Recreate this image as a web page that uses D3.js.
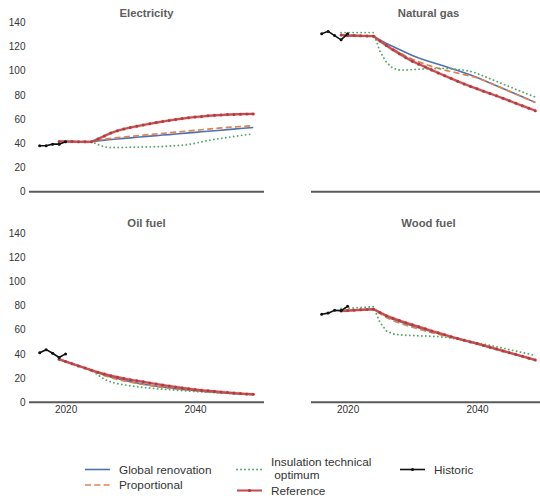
<!DOCTYPE html>
<html>
<head>
<meta charset="utf-8">
<script src="https://cdn.jsdelivr.net/npm/d3@7"></script>
<style>
  body { margin: 0; background: #fff; }
  svg { display: block; font-family: "Liberation Sans", Arial, sans-serif; }
</style>
</head>
<body>
<svg id="chart" width="540" height="496"></svg>
<script>
// ---- data ----------------------------------------------------------------
const scenarioYears = [2019, 2020, 2021, 2022, 2023, 2024, 2025, 2026, 2027, 2028, 2029,
  2030, 2031, 2032, 2033, 2034, 2035, 2036, 2037, 2038, 2039, 2040, 2041, 2042, 2043,
  2044, 2045, 2046, 2047, 2048, 2049];
const historicYears = [2016, 2017, 2018, 2019, 2020];

const yTicks = [0, 20, 40, 60, 80, 100, 120, 140];
const xTicks = [2020, 2040];

const scenarioNames = ["Global renovation", "Proportional", "Insulation technical\n optimum", "Reference"];

// Electricity
const elecGlobal = [41.5, 41.5, 41.4, 41.3, 41.3, 41.3, 42, 42.6, 43.1, 43.6, 44.1, 44.5, 45, 45.4, 45.9, 46.3, 46.8, 47.2, 47.7, 48.1, 48.6, 49, 49.5, 49.9, 50.4, 50.8, 51.3, 51.7, 52.2, 52.6, 53.1];
const elecProportional = [41.5, 41.5, 41.4, 41.3, 41.3, 41.3, 42.5, 43.4, 44.1, 44.7, 45.2, 45.7, 46.2, 46.7, 47.2, 47.7, 48.2, 48.7, 49.2, 49.7, 50.2, 50.7, 51.2, 51.7, 52.2, 52.7, 53.1, 53.5, 53.9, 54.2, 54.5];
const elecInsulation = [41.5, 41.5, 41.4, 41.3, 41.3, 41.3, 39, 37, 36.5, 36.5, 36.6, 36.7, 36.8, 36.9, 37, 37.2, 37.4, 37.7, 38, 38.4, 39, 40, 41.2, 42.3, 43.2, 44, 44.8, 45.6, 46.4, 47.1, 47.8];
const elecReference = [41.5, 41.5, 41.4, 41.3, 41.3, 41.3, 43.5, 46, 48.5, 50.3, 51.8, 53, 54.1, 55.1, 56.1, 57.1, 58, 58.9, 59.7, 60.4, 61.1, 61.7, 62.2, 62.7, 63.1, 63.4, 63.7, 63.9, 64.1, 64.2, 64.3];
const elecHistoric = [38, 38, 39.3, 39.3, 41.3];

// Natural gas
const gasGlobal = [129.5, 129, 129, 128.8, 128.7, 128.5, 125.5, 122.5, 120, 117.5, 115, 112.5, 110.5, 108.7, 107, 105.3, 103.6, 101.9, 100.2, 98.4, 96.5, 94.4, 92.2, 89.9, 87.6, 85.3, 83, 80.7, 78.4, 76.1, 73.8];
const gasProportional = [129.5, 129, 129, 128.8, 128.7, 128.5, 124.8, 121.3, 118, 115, 112, 109.5, 107.3, 105.3, 103.6, 102, 100.5, 99.2, 98, 96.8, 95.6, 94.2, 92.1, 89.8, 87.5, 85.2, 82.9, 80.6, 78.3, 76, 73.7];
const gasInsulation = [131.5, 131.5, 131.5, 131.5, 131.5, 131.5, 116, 107, 102, 100.5, 100.5, 101, 101.3, 101.6, 101.8, 101.9, 101.9, 101.6, 101.1, 100.4, 99.4, 97.8, 95.6, 93.4, 91.2, 89, 86.8, 84.6, 82.4, 80.3, 78.2];
const gasReference = [129.5, 129, 129, 128.8, 128.7, 128.5, 124.5, 120.8, 117.3, 114, 110.8, 107.8, 105.4, 103, 100.6, 98.2, 95.9, 93.6, 91.3, 89.1, 87, 85, 83, 81.1, 79.2, 77.2, 75.1, 73, 71, 69, 67];
const gasHistoric = [130.5, 132.5, 129, 125.5, 130.5];

// Oil fuel
const oilGlobal = [35.5, 33.7, 31.9, 30.1, 28.3, 26.5, 24.5, 22.6, 21, 19.6, 18.3, 17.1, 16, 15, 14.1, 13.3, 12.6, 11.9, 11.3, 10.7, 10.2, 9.7, 9.2, 8.8, 8.4, 8, 7.6, 7.3, 7, 6.7, 6.4];
const oilProportional = [35.5, 33.7, 31.9, 30.1, 28.3, 26.5, 24.2, 22, 20.3, 18.9, 17.7, 16.6, 15.6, 14.7, 13.9, 13.1, 12.4, 11.8, 11.2, 10.6, 10.1, 9.6, 9.1, 8.7, 8.3, 7.9, 7.5, 7.2, 6.9, 6.6, 6.3];
const oilInsulation = [35.5, 33.7, 31.9, 30.1, 28.3, 26.5, 22.5, 19, 16.8, 15.4, 14.4, 13.6, 12.9, 12.3, 11.8, 11.3, 10.9, 10.5, 10.1, 9.7, 9.3, 8.9, 8.6, 8.3, 8, 7.7, 7.4, 7.1, 6.8, 6.5, 6.2];
const oilReference = [35.5, 33.7, 31.9, 30.1, 28.3, 26.5, 24.8, 23.3, 22, 20.8, 19.7, 18.7, 17.8, 16.9, 16, 15.1, 14.2, 13.4, 12.6, 11.9, 11.2, 10.6, 10, 9.5, 9, 8.5, 8.1, 7.7, 7.3, 6.9, 6.6];
const oilHistoric = [41, 43.5, 40.5, 37, 40];

// Wood fuel
const woodGlobal = [75.5, 75.8, 76.1, 76.4, 76.7, 77, 74, 71, 68.7, 66.7, 64.9, 63.2, 61.6, 60, 58.5, 57.1, 55.6, 54.1, 52.6, 51.2, 49.8, 48.4, 46.9, 45.4, 43.9, 42.4, 40.9, 39.4, 37.9, 36.4, 34.9];
const woodProportional = [75.5, 75.8, 76.1, 76.4, 76.7, 77, 73.3, 70, 67.5, 65.5, 63.7, 62.1, 60.5, 59, 57.6, 56.3, 55, 53.7, 52.4, 51.1, 49.8, 48.4, 46.9, 45.4, 43.9, 42.4, 40.9, 39.4, 37.9, 36.4, 34.9];
const woodInsulation = [77.5, 77.8, 78, 78.3, 78.6, 79, 66, 59, 56.5, 55.8, 55.4, 55.2, 55, 54.8, 54.6, 54.3, 53.8, 53.1, 52.2, 51.3, 50.3, 49.2, 48.1, 47, 45.9, 44.7, 43.5, 42.3, 41.1, 39.9, 38.6];
const woodReference = [75.5, 75.8, 76.1, 76.4, 76.7, 77, 74.3, 71.6, 69.5, 67.6, 65.8, 64.1, 62.4, 60.7, 59, 57.4, 55.8, 54.2, 52.7, 51.3, 49.9, 48.5, 47, 45.5, 44, 42.5, 41, 39.5, 38, 36.5, 35];
const woodHistoric = [72.8, 73.7, 76, 75.8, 79.3];

// ---- layout & styles -----------------------------------------------------
const panels = [
  { title: "Electricity", col: 0, row: 0, series: [elecGlobal, elecProportional, elecInsulation, elecReference], historic: elecHistoric },
  { title: "Natural gas", col: 1, row: 0, series: [gasGlobal, gasProportional, gasInsulation, gasReference], historic: gasHistoric },
  { title: "Oil fuel", col: 0, row: 1, series: [oilGlobal, oilProportional, oilInsulation, oilReference], historic: oilHistoric },
  { title: "Wood fuel", col: 1, row: 1, series: [woodGlobal, woodProportional, woodInsulation, woodReference], historic: woodHistoric }
];

const colLeft = [29, 311];
const panelWidth = 235;
const rowBottom = [191.7, 402.3];
const panelHeight = 169.4;

const styles = [
  { color: "#4c72b0", width: 1.6, dash: null, cap: "butt" },
  { color: "#dd8452", width: 1.7, dash: "6,3.3", cap: "butt" },
  { color: "#55a868", width: 1.9, dash: "0.01,4", cap: "round" },
  { color: "#c44e52", width: 2.1, dash: null, cap: "butt", markers: true }
];

const svg = d3.select("#chart");

panels.forEach(p => {
  const x0 = colLeft[p.col];
  const yb = rowBottom[p.row];
  const x = d3.scaleLinear().domain([2014.35, 2050.65]).range([x0, x0 + panelWidth]);
  const y = d3.scaleLinear().domain([0, 140]).range([yb, yb - panelHeight]);
  const g = svg.append("g");

  // panel title
  g.append("text")
    .attr("x", x0 + panelWidth / 2)
    .attr("y", yb - panelHeight - 5.5)
    .attr("text-anchor", "middle")
    .attr("font-size", "11.3px")
    .attr("font-weight", "bold")
    .attr("fill", "#5e5e5e")
    .text(p.title);

  // y tick labels on the left column only
  if (p.col === 0) {
    const ya = g.append("g")
      .attr("transform", `translate(${x0},0)`)
      .call(d3.axisLeft(y).tickValues(yTicks).tickSize(0).tickPadding(3.5));
    ya.select(".domain").remove();
    ya.selectAll("text").attr("font-size", "10px").attr("fill", "#333")
      .attr("font-family", "'Liberation Sans', Arial, sans-serif");
  }
  // x tick labels on the bottom row only
  if (p.row === 1) {
    const xa = g.append("g")
      .attr("transform", `translate(0,${yb})`)
      .call(d3.axisBottom(x).tickValues(xTicks).tickFormat(d3.format("d")).tickSize(0).tickPadding(3.5));
    xa.select(".domain").remove();
    xa.selectAll("text").attr("font-size", "10px").attr("fill", "#333")
      .attr("font-family", "'Liberation Sans', Arial, sans-serif");
  }

  // zero baseline
  g.append("line")
    .attr("x1", x0).attr("x2", x0 + panelWidth)
    .attr("y1", yb).attr("y2", yb)
    .attr("stroke", "#5a5a5a").attr("stroke-width", 2);

  const line = d3.line().x(d => x(d[0])).y(d => y(d[1]));

  p.series.forEach((vals, i) => {
    const st = styles[i];
    const pts = scenarioYears.map((yr, k) => [yr, vals[k]]);
    if (st.markers) {
      g.append("path").datum(pts)
        .attr("d", line).attr("fill", "none")
        .attr("stroke", st.color).attr("stroke-opacity", 0.2)
        .attr("stroke-width", 3.4);
    }
    g.append("path").datum(pts)
      .attr("d", line)
      .attr("fill", "none")
      .attr("stroke", st.color)
      .attr("stroke-width", st.width)
      .attr("stroke-dasharray", st.dash)
      .attr("stroke-linecap", st.cap);
    if (st.markers) {
      g.selectAll(null).data(pts).enter().append("circle")
        .attr("cx", d => x(d[0])).attr("cy", d => y(d[1]))
        .attr("r", 1.5).attr("fill", "#b7393e");
    }
  });

  const hpts = historicYears.map((yr, k) => [yr, p.historic[k]]);
  g.append("path").datum(hpts)
    .attr("d", line).attr("fill", "none")
    .attr("stroke", "#111").attr("stroke-width", 1.6);
  g.selectAll(null).data(hpts).enter().append("circle")
    .attr("cx", d => x(d[0])).attr("cy", d => y(d[1]))
    .attr("r", 1.5).attr("fill", "#111");
});

// ---- legend ----------------------------------------------------------------
const legend = svg.append("g")
  .attr("font-size", "11.8px")
  .attr("fill", "#333");

const legendItems = [
  { name: scenarioNames[0], style: styles[0], x: 85, y: 469.5 },
  { name: scenarioNames[1], style: styles[1], x: 85, y: 485 },
  { name: scenarioNames[2], style: styles[2], x: 237, y: 469.5 },
  { name: scenarioNames[3], style: styles[3], x: 237, y: 490.5 },
  { name: "Historic", style: { color: "#111", width: 1.6, dash: null, cap: "butt", markers: true, dot: "#111" }, x: 400, y: 469.5 }
];

legendItems.forEach(it => {
  const st = it.style;
  legend.append("line")
    .attr("x1", it.x).attr("x2", it.x + 25)
    .attr("y1", it.y).attr("y2", it.y)
    .attr("stroke", st.color).attr("stroke-width", st.width)
    .attr("stroke-dasharray", st.dash)
    .attr("stroke-linecap", st.cap);
  if (st.markers) {
    legend.append("circle").attr("cx", it.x + 12.5).attr("cy", it.y)
      .attr("r", 1.6).attr("fill", st.dot || "#b7393e");
  }
  // multi-line labels are stacked as separate text rows
  const rows = it.name.split("\n");
  const step = 13.6;
  rows.forEach((ln, k) => {
    legend.append("text")
      .attr("x", it.x + 34)
      .attr("y", it.y + 4 - (rows.length - 1) * step / 2 + k * step - (rows.length - 1) * 1.2)
      .style("white-space", "pre")
      .text(ln);
  });
});
</script>
</body>
</html>
